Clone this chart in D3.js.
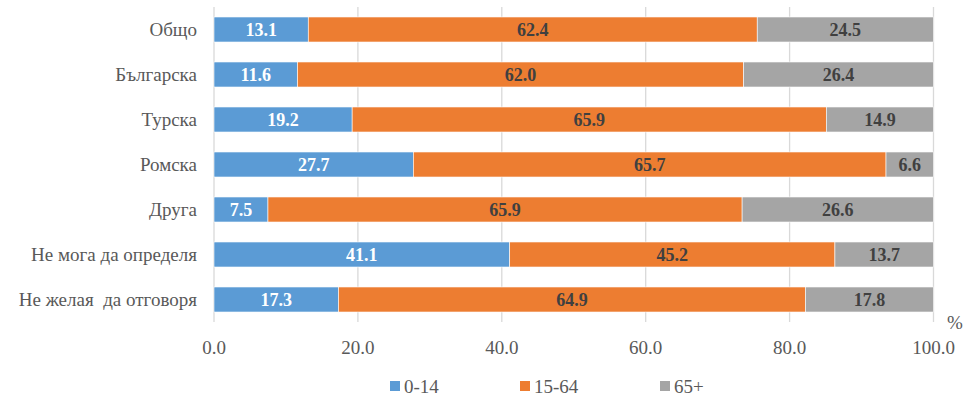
<!DOCTYPE html>
<html><head><meta charset="utf-8">
<script src="https://cdn.jsdelivr.net/npm/d3@7"></script>
<style>body{margin:0;background:#fff}svg{display:block}</style>
</head><body><svg id="c" width="970" height="399"></svg>
<script>
const categories = ["Общо","Българска","Турска","Ромска","Друга","Не мога да определя","Не желая  да отговоря"];
const seriesNames = ["0-14","15-64","65+"];
const s0_14 = [13.1,11.6,19.2,27.7,7.5,41.1,17.3];
const s15_64 = [62.4,62.0,65.9,65.7,65.9,45.2,64.9];
const s65 = [24.5,26.4,14.9,6.6,26.6,13.7,17.8];
const xTicks = [0,20,40,60,80,100];
const colors = ["#5B9BD5","#ED7D31","#A5A5A5"];
const labelColors = ["#ffffff","#404040","#404040"];
const FONT = '"Liberation Serif", "DejaVu Serif", "Noto Serif", "Noto Serif CJK SC", Tinos, "Times New Roman", Times, FreeSerif, "Nimbus Roman", serif';

const svg = d3.select("#c");
const x = d3.scaleLinear().domain([0,100]).range([214,933.5]);
const y = d3.scaleBand().domain(categories).range([7,322]).paddingInner(0.444).paddingOuter(0.222);

svg.append("g").selectAll("line").data(xTicks).join("line")
  .attr("x1",d=>x(d)).attr("x2",d=>x(d)).attr("y1",7).attr("y2",322)
  .attr("stroke","#d9d9d9").attr("stroke-width",1.3);

const stackData = categories.map((c,i)=>({cat:c,"0-14":s0_14[i],"15-64":s15_64[i],"65+":s65[i]}));
const stacked = d3.stack().keys(seriesNames)(stackData);

stacked.forEach((layer,k)=>{
  const g = svg.append("g");
  g.selectAll("rect").data(layer).join("rect")
    .attr("x",d=>x(d[0])).attr("width",d=>x(d[1])-x(d[0]))
    .attr("y",d=>y(d.data.cat)).attr("height",y.bandwidth())
    .attr("fill",colors[k]).attr("stroke","#fff").attr("stroke-width",0.6);
  g.selectAll("text").data(layer).join("text")
    .attr("x",d=>(x(d[0])+x(d[1]))/2).attr("y",d=>y(d.data.cat)+y.bandwidth()/2)
    .attr("dy","0.35em").attr("text-anchor","middle").style("font-family",FONT)
    .attr("font-size",18).attr("font-weight","bold").attr("fill",labelColors[k])
    .text(d=>(d[1]-d[0]).toFixed(1));
});

svg.append("g").selectAll("text").data(categories).join("text")
  .attr("x",197).attr("y",d=>y(d)+y.bandwidth()/2).attr("dy","0.35em").style("font-family",FONT)
  .attr("text-anchor","end").attr("font-size",19).attr("fill","#595959")
  .style("white-space","pre").text(d=>d);

svg.append("g").selectAll("text").data(xTicks).join("text")
  .attr("x",d=>x(d)).attr("y",347).attr("dy","0.35em").attr("text-anchor","middle").style("font-family",FONT)
  .attr("font-size",19).attr("fill","#595959").text(d=>d.toFixed(1));

svg.append("text").attr("x",955).attr("y",322).attr("dy","0.35em").attr("text-anchor","middle").style("font-family",FONT)
  .attr("font-size",19).attr("fill","#595959").text("%");

const legX = [390,520,660];
const lg = svg.append("g").selectAll("g").data(seriesNames).join("g")
  .attr("transform",(d,i)=>`translate(${legX[i]},381)`);
lg.append("rect").attr("width",10).attr("height",10).attr("fill",(d,i)=>colors[i]);
lg.append("text").attr("x",14).attr("y",5).attr("dy","0.35em").attr("font-size",19).style("font-family",FONT)
  .attr("fill","#595959").text(d=>d);
</script></body></html>
